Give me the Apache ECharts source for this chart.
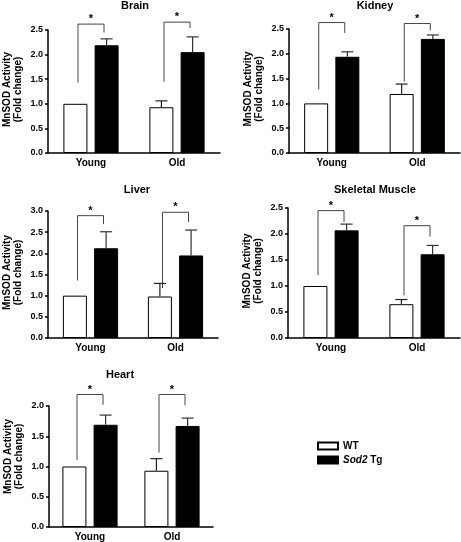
<!DOCTYPE html>
<html><head><meta charset="utf-8">
<script src="https://cdn.jsdelivr.net/npm/echarts@6/dist/echarts.min.js"></script>
<style>html,body{margin:0;padding:0;background:#fff}#c{width:461px;height:542px}</style>
</head><body><div id="c"></div>
<script>
// ---- data ----
const categories = ['Young', 'Old'];
const seriesNames = ['WT', 'Sod2 Tg'];
const panelTitles = ['Brain', 'Kidney', 'Liver', 'Skeletal Muscle', 'Heart'];
const yMax = [2.5, 2.5, 3.0, 2.5, 2.0];

const brainWT = [1.0, 0.93], brainWTErr = [1.0, 1.06];
const brainTg = [2.19, 2.05], brainTgErr = [2.32, 2.36];
const brainBrackets = [[1.43, 2.62, 2.45], [1.45, 2.66, 2.54]];

const kidneyWT = [1.0, 1.19], kidneyWTErr = [1.0, 1.39];
const kidneyTg = [1.94, 2.30], kidneyTgErr = [2.04, 2.38];
const kidneyBrackets = [[1.28, 2.63, 2.42], [1.44, 2.61, 2.47]];

const liverWT = [1.0, 0.98], liverWTErr = [1.0, 1.29];
const liverTg = [2.12, 1.95], liverTgErr = [2.51, 2.55];
const liverBrackets = [[1.36, 2.89, 2.69], [1.18, 2.97, 2.74]];

const muscleWT = [1.0, 0.65], muscleWTErr = [1.0, 0.74];
const muscleTg = [2.07, 1.61], muscleTgErr = [2.19, 1.78];
const muscleBrackets = [[1.21, 2.45, 2.23], [0.82, 2.16, 1.95]];

const heartWT = [1.0, 0.93], heartWTErr = [1.0, 1.13];
const heartTg = [1.69, 1.67], heartTgErr = [1.85, 1.80];
const heartBrackets = [[1.11, 2.19, 2.02], [1.23, 2.19, 2.01]];

// ---- layout ----
const panelData = [
  [brainWT, brainWTErr, brainTg, brainTgErr, brainBrackets],
  [kidneyWT, kidneyWTErr, kidneyTg, kidneyTgErr, kidneyBrackets],
  [liverWT, liverWTErr, liverTg, liverTgErr, liverBrackets],
  [muscleWT, muscleWTErr, muscleTg, muscleTgErr, muscleBrackets],
  [heartWT, heartWTErr, heartTg, heartTgErr, heartBrackets]
];
const grids = [
  {left: 48, top: 30, width: 172, height: 123},
  {left: 289, top: 29, width: 171, height: 124},
  {left: 48, top: 211, width: 170, height: 127},
  {left: 288, top: 208, width: 172, height: 130},
  {left: 49, top: 406, width: 164, height: 122}
];
const titlePos = [[135, 0], [375, 0], [137, 184], [375, 184], [120, 369]];
const namePad = [[0, 0, 0, 4], [0, 0, 0, 4], [0, 0, 0, 4], [0, 0, 0, 4], [0, 0, 0, 20]];

const FONT = '"Liberation Sans", Arial, sans-serif';
const BAR_W = 24, OFF = 15.6, BR_OFF = 13;

const option = {
  backgroundColor: '#fff',
  animation: false,
  title: panelTitles.map((t, i) => ({
    text: t, left: titlePos[i][0], top: titlePos[i][1], textAlign: 'center', padding: 0,
    textStyle: {fontFamily: FONT, fontWeight: 'bold', fontSize: 11, color: '#000'}
  })),
  legend: {
    data: seriesNames, orient: 'vertical', left: 312, top: 436, itemGap: 4,
    itemWidth: 20, itemHeight: 7, icon: 'rect',
    formatter: n => n === 'Sod2 Tg' ? '{i|Sod2} Tg' : n,
    textStyle: {fontFamily: FONT, fontWeight: 'bold', fontSize: 10, color: '#000',
      rich: {i: {fontFamily: FONT, fontStyle: 'italic', fontWeight: 'bold', fontSize: 10, color: '#000'}}}
  },
  grid: grids,
  xAxis: grids.map((g, i) => ({
    type: 'category', gridIndex: i, data: categories,
    axisLine: {lineStyle: {color: '#000', width: 1.5}},
    axisTick: {show: false},
    axisLabel: {fontFamily: FONT, fontWeight: 'bold', fontSize: 10, color: '#000', margin: 5}
  })),
  yAxis: grids.map((g, i) => ({
    type: 'value', gridIndex: i, min: 0, max: yMax[i], interval: 0.5,
    name: 'MnSOD Activity\n(Fold change)', nameLocation: 'middle', nameGap: 24,
    nameTextStyle: {fontFamily: FONT, fontWeight: 'bold', fontSize: 10, color: '#000', lineHeight: 11,
      padding: namePad[i]},
    axisLine: {show: true, lineStyle: {color: '#000', width: 1.5}},
    axisTick: {show: true, length: 3, lineStyle: {color: '#000', width: 1.5}},
    splitLine: {show: false},
    axisLabel: {fontFamily: FONT, fontWeight: 'bold', fontSize: 9, color: '#000', margin: 5,
      formatter: v => v.toFixed(1)}
  })),
  series: []
};

panelData.forEach((d, i) => {
  const [wt, wtErr, tg, tgErr, br] = d;
  option.series.push({
    name: 'WT', type: 'bar', xAxisIndex: i, yAxisIndex: i, data: wt,
    barWidth: BAR_W, barGap: '30%',
    itemStyle: {color: '#fff', borderColor: '#000', borderWidth: 1}
  });
  option.series.push({
    name: 'Sod2 Tg', type: 'bar', xAxisIndex: i, yAxisIndex: i, data: tg,
    barWidth: BAR_W, barGap: '30%',
    itemStyle: {color: '#000', borderColor: '#000', borderWidth: 1}
  });
  const errData = [];
  categories.forEach((c, k) => {
    errData.push([k, 0, wt[k], wtErr[k]]);
    errData.push([k, 1, tg[k], tgErr[k]]);
  });
  option.series.push({
    type: 'custom', xAxisIndex: i, yAxisIndex: i, data: errData, z: 5,
    renderItem: (params, api) => {
      const k = api.value(0), s = api.value(1), base = api.value(2), top = api.value(3);
      if (!(top > base)) return null;
      const p0 = api.coord([k, base]), p1 = api.coord([k, top]);
      const x = p0[0] + (s === 0 ? -OFF : OFF);
      const st = {stroke: s === 0 ? '#222' : '#333', lineWidth: 1.2};
      return {type: 'group', children: [
        {type: 'line', shape: {x1: x, y1: p0[1], x2: x, y2: p1[1]}, style: st},
        {type: 'line', shape: {x1: x - 6, y1: p1[1], x2: x + 6, y2: p1[1]}, style: st}
      ]};
    }
  });
  option.series.push({
    type: 'custom', xAxisIndex: i, yAxisIndex: i, z: 5,
    data: br.map((b, k) => [k, b[0], b[1], b[2]]),
    renderItem: (params, api) => {
      const k = api.value(0);
      const pl = api.coord([k, api.value(1)]), pt = api.coord([k, api.value(2)]), pr = api.coord([k, api.value(3)]);
      const xl = pt[0] - BR_OFF, xr = pt[0] + BR_OFF;
      return {type: 'group', children: [
        {type: 'polyline', shape: {points: [[xl, pl[1]], [xl, pt[1]], [xr, pt[1]], [xr, pr[1]]]},
         style: {stroke: '#444', lineWidth: 1, fill: null}},
        {type: 'text', x: pt[0], y: pt[1] - 5,
         style: {text: '*', fontFamily: FONT, fontWeight: 'bold', fontSize: 11, fill: '#000', align: 'center', verticalAlign: 'middle'}}
      ]};
    }
  });
});

const chart = echarts.init(document.getElementById('c'), null, {renderer: 'canvas'});
chart.setOption(option);
</script>
</body></html>
